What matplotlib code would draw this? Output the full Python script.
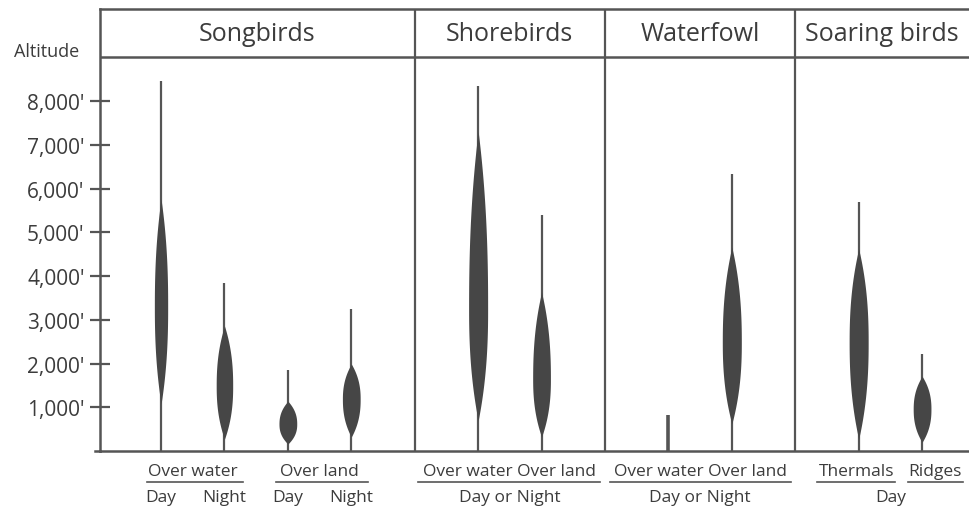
import numpy as np
import matplotlib.pyplot as plt

plt.rcParams['font.family'] = ['Open Sans', 'DejaVu Sans']

# altitude data (feet), one entry per column
slots = [0, 1, 2, 3, 5, 6, 8, 9, 11, 12]
line_top = [8450, 3850, 1850, 3250, 8340, 5400, 820, 6330, 5690, 2220]
body_low = [1070, 270, 160, 320, 690, 320, 0, 620, 270, 200]
body_high = [5760, 2860, 1140, 1990, 7310, 3630, 0, 4660, 4620, 1710]
body_peak = [3300, 1490, 620, 1190, 3250, 1650, 0, 2490, 2490, 960]
half_width = [0.105, 0.13, 0.14, 0.14, 0.15, 0.14, 0.0, 0.15, 0.15, 0.14]

groups = ['Songbirds', 'Shorebirds', 'Waterfowl', 'Soaring birds']
group_centers = [1.52, 5.5, 8.5, 11.37]
dividers = [4, 7, 10]
yticks = [1000, 2000, 3000, 4000, 5000, 6000, 7000, 8000]
ytick_labels = ["1,000'", "2,000'", "3,000'", "4,000'", "5,000'", "6,000'", "7,000'", "8,000'"]

line_c = '#555555'
fill_c = '#464646'
text_c = '#3c3c3c'

fig = plt.figure(figsize=(9.69, 5.10), dpi=100)
ax = fig.add_axes([100 / 969, 1 - 452 / 510, 1 - 100 / 969, 442 / 510])
ax.set_xlim(-0.962, 12.74)
ax.set_ylim(0, 10103)

# violins
for x, top, lo, hi, pk, w in zip(slots, line_top, body_low, body_high, body_peak, half_width):
    lw = 1.6 if w > 0 else 2.6
    ax.plot([x, x], [0, top], color=line_c, lw=lw, solid_capstyle='butt', zorder=2)
    if w == 0:
        continue
    y = np.linspace(lo, hi, 300)
    t = np.where(y < pk, (pk - y) / (pk - lo), (y - pk) / (hi - pk))
    ww = w * (1 - t ** 2.3)
    ax.fill_betweenx(y, x - ww, x + ww, color=fill_c, lw=0, zorder=3)

# frame
ax.spines['right'].set_visible(False)
for s in ['left', 'top', 'bottom']:
    ax.spines[s].set_color(line_c)
    ax.spines[s].set_linewidth(1.8)
ax.axhline(9005, color=line_c, lw=1.8)
for d in dividers:
    ax.axvline(d, color=line_c, lw=1.6)
ax.plot([-1.04, -0.962], [0, 0], color=line_c, lw=1.8, clip_on=False)

ax.set_yticks(yticks)
ax.set_yticklabels(ytick_labels, fontsize=15, color=text_c)
ax.tick_params(axis='y', direction='inout', length=14, width=1.6, color=line_c, pad=4)
ax.set_xticks([])

for g, c in zip(groups, group_centers):
    ax.text(c, 9554, g, ha='center', va='center', fontsize=18, color=text_c)

fig.text(47 / 969, 1 - 52 / 510, 'Altitude', ha='center', va='center', fontsize=13, color=text_c)

# bottom category labels
tr = ax.get_xaxis_transform()
top_labels = [('Over water', 0.5), ('Over land', 2.5), ('Over water Over land', 5.5),
              ('Over water Over land', 8.5), ('Thermals', 10.97), ('Ridges', 12.2)]
underlines = [(-0.22, 1.29), (1.81, 3.26), (4.05, 6.92), (7.08, 9.94), (10.35, 11.58), (11.78, 12.65)]
sub_labels = [('Day', 0), ('Night', 1), ('Day', 2), ('Night', 3), ('Day or Night', 5.5),
              ('Day or Night', 8.5), ('Day', 11.5)]
for txt, x in top_labels:
    ax.text(x, -0.046, txt, transform=tr, ha='center', va='center', fontsize=12.5, color=text_c)
for a, b in underlines:
    ax.plot([a, b], [-0.071, -0.071], transform=tr, color=line_c, lw=1.2, clip_on=False)
for txt, x in sub_labels:
    ax.text(x, -0.104, txt, transform=tr, ha='center', va='center', fontsize=12.5, color=text_c)

fig.savefig('out.png', dpi=100)
